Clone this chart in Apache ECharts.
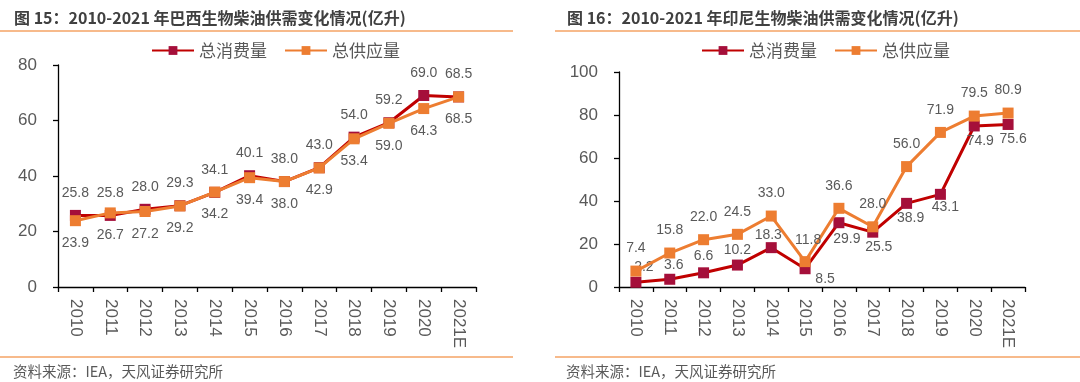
<!DOCTYPE html>
<html>
<head>
<meta charset="utf-8">
<script src="https://cdn.jsdelivr.net/npm/echarts@6/dist/echarts.min.js"></script>
<style>html,body{margin:0;padding:0;background:#fff;}#c{width:1080px;height:382px;}</style>
</head>
<body>
<div id="c"></div>
<script>
var years = ['2010','2011','2012','2013','2014','2015','2016','2017','2018','2019','2020','2021E'];
var brazilConsumption = [25.8, 25.8, 28.0, 29.3, 34.1, 40.1, 38.0, 43.0, 54.0, 59.2, 69.0, 68.5];
var brazilSupply      = [23.9, 26.7, 27.2, 29.2, 34.2, 39.4, 38.0, 42.9, 53.4, 59.0, 64.3, 68.5];
var indoConsumption   = [2.2, 3.6, 6.6, 10.2, 18.3, 8.5, 29.9, 25.5, 38.9, 43.1, 74.9, 75.6];
var indoSupply        = [7.4, 15.8, 22.0, 24.5, 33.0, 11.8, 36.6, 28.0, 56.0, 71.9, 79.5, 80.9];
var brazilYTicks = {min: 0, max: 80, interval: 20};
var indoYTicks = {min: 0, max: 100, interval: 20};
var titles = ['图 15：2010-2021 年巴西生物柴油供需变化情况(亿升)', '图 16：2010-2021 年印尼生物柴油供需变化情况(亿升)'];
var sourceText = '资料来源：IEA，天风证券研究所';
var names = ['总消费量', '总供应量'];

// label placement (layout only): [position, distance, offset]
var indoConsLabelLayout = [
  ['top', 3, [8, 0]], ['top', 2, [4, 0]], ['top', 4, [0, 0]], ['top', 2, [0, 0]], ['top', 0, [-3, 0]],
  ['bottom', 2, [20, -4]], ['bottom', 4, [8, 0]], ['bottom', 2, [6, 0]], ['bottom', 2, [4, 0]],
  ['bottom', 0, [5, 0]], ['bottom', 3, [6, 0]], ['bottom', 2, [5, 0]]
];

var chart = echarts.init(document.getElementById('c'));
var numFont = 'Liberation Sans, Arial, sans-serif';
var cjkFont = 'Noto Sans CJK SC, sans-serif';
var gray = '#595959';
var redLine = '#C00000', redMark = '#A50F3A', orange = '#ED7D31', rule = '#F4A365';

function xAxis(gi) {
  return {
    type: 'category', gridIndex: gi, data: years, boundaryGap: true,
    axisLine: {lineStyle: {color: '#000', width: 1.3}},
    axisTick: {show: true, alignWithLabel: false, length: 5, lineStyle: {color: '#000', width: 1.3}},
    axisLabel: {rotate: -90, color: gray, fontSize: 17, fontFamily: numFont, margin: 12, interval: 0}
  };
}
function yAxis(gi, t) {
  return {
    type: 'value', gridIndex: gi, min: t.min, max: t.max, interval: t.interval,
    splitLine: {show: false},
    axisLine: {show: true, lineStyle: {color: '#000', width: 1.3}},
    axisTick: {show: true, length: 5, lineStyle: {color: '#000', width: 1.3}},
    axisLabel: {color: gray, fontSize: 17, fontFamily: numFont, margin: 21}
  };
}
function lbl(pos, dist, offset) {
  var o = {show: true, position: pos, distance: dist, color: gray, fontSize: 14, fontFamily: numFont,
    formatter: function (p) { return p.value.toFixed(1); }};
  if (offset) o.offset = offset;
  return o;
}
function mkData(vals, layoutFn) {
  return vals.map(function (v, i) {
    var r = layoutFn(i);
    return {value: v, label: lbl(r[0], r[1], r[2])};
  });
}
function series(name, gi, data, lineColor, markColor, z) {
  return {
    name: name, type: 'line', xAxisIndex: gi, yAxisIndex: gi, data: data,
    symbol: 'rect', symbolSize: 11, z: z,
    lineStyle: {color: lineColor, width: 3},
    itemStyle: {color: markColor},
    emphasis: {disabled: true}, animation: false
  };
}
var legendText = {color: gray, fontSize: 17, fontFamily: cjkFont};

var option = {
  animation: false,
  textStyle: {fontFamily: cjkFont},
  grid: [
    {left: 58, right: 604, top: 65, bottom: 95, containLabel: false},
    {left: 619, right: 55, top: 72, bottom: 95, containLabel: false}
  ],
  xAxis: [xAxis(0), xAxis(1)],
  yAxis: [yAxis(0, brazilYTicks), yAxis(1, indoYTicks)],
  legend: [
    {data: names, left: 146, top: 37, itemWidth: 42, itemHeight: 11, itemGap: 17, textStyle: legendText},
    {data: names, left: 696, top: 37, itemWidth: 42, itemHeight: 11, itemGap: 17, textStyle: legendText}
  ],
  series: [
    series(names[0], 0, mkData(brazilConsumption, function () { return ['top', 10]; }), redLine, redMark, 2),
    series(names[1], 0, mkData(brazilSupply, function () { return ['bottom', 10]; }), orange, orange, 3),
    series(names[0], 1, mkData(indoConsumption, function (i) { return indoConsLabelLayout[i]; }), redLine, redMark, 2),
    series(names[1], 1, mkData(indoSupply, function (i) {
      return i === 5 ? ['top', 9, [3, 0]] : ['top', 10];
    }), orange, orange, 3)
  ],
  graphic: [
    {type: 'text', x: 14, y: 18, style: {text: titles[0], fill: '#404040', font: 'bold 16px ' + cjkFont, verticalAlign: 'middle'}},
    {type: 'text', x: 567, y: 18, style: {text: titles[1], fill: '#404040', font: 'bold 16px ' + cjkFont, verticalAlign: 'middle'}},
    {type: 'line', shape: {x1: 0, y1: 31, x2: 513, y2: 31}, style: {stroke: rule, lineWidth: 1.5}},
    {type: 'line', shape: {x1: 555, y1: 31, x2: 1080, y2: 31}, style: {stroke: rule, lineWidth: 1.5}},
    {type: 'line', shape: {x1: 0, y1: 357, x2: 513, y2: 357}, style: {stroke: rule, lineWidth: 1.5}},
    {type: 'line', shape: {x1: 555, y1: 357, x2: 1080, y2: 357}, style: {stroke: rule, lineWidth: 1.5}},
    {type: 'text', x: 13, y: 371, style: {text: sourceText, fill: gray, font: '14.5px ' + cjkFont, verticalAlign: 'middle'}},
    {type: 'text', x: 566, y: 371, style: {text: sourceText, fill: gray, font: '14.5px ' + cjkFont, verticalAlign: 'middle'}}
  ]
};
chart.setOption(option);
</script>
</body>
</html>
